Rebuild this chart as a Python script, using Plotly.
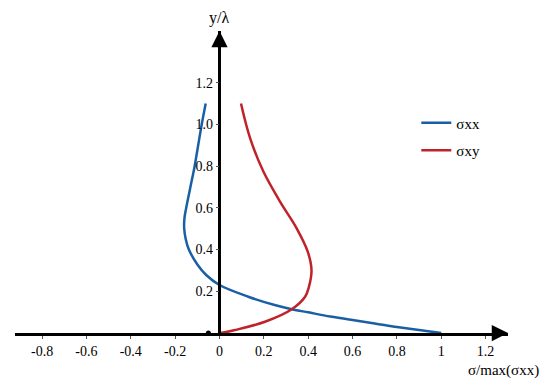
import plotly.graph_objects as go

# sigma_xx curve (normalized stress) vs y/lambda
sxx_y = [0.0, 0.014, 0.029, 0.046, 0.062, 0.079, 0.099, 0.114, 0.134, 0.174, 0.23, 0.278, 0.326, 0.40, 0.45, 0.50, 0.55, 0.60, 0.70, 0.80, 0.90, 1.0, 1.1]
sxx_x = [1.0, 0.90, 0.80, 0.70, 0.60, 0.50, 0.40, 0.326, 0.249, 0.13, 0.0, -0.060, -0.098, -0.138, -0.152, -0.159, -0.158, -0.150, -0.131, -0.112, -0.096, -0.080, -0.062]

# sigma_xy curve
sxy_y = [0.0, 0.002, 0.014, 0.054, 0.114, 0.174, 0.22, 0.30, 0.39, 0.502, 0.63, 0.774, 0.934, 1.1]
sxy_x = [0.0, 0.017, 0.07, 0.205, 0.326, 0.386, 0.403, 0.415, 0.398, 0.348, 0.273, 0.198, 0.138, 0.097]

x_ticks = [-0.8, -0.6, -0.4, -0.2, 0, 0.2, 0.4, 0.6, 0.8, 1, 1.2]
x_tick_text = ["-0.8", "-0.6", "-0.4", "-0.2", "0", "0.2", "0.4", "0.6", "0.8", "1", "1.2"]
y_ticks = [0.2, 0.4, 0.6, 0.8, 1.0, 1.2]
y_tick_text = ["0.2", "0.4", "0.6", "0.8", "1.0", "1.2"]

x_range = [-0.922, 1.301]
y_range = [0.0, 1.448]

serif = "Liberation Serif, Times New Roman, serif"
blue = "#1a5fa6"
red = "#c0222a"

fig = go.Figure()
fig.add_trace(go.Scatter(x=sxx_x, y=sxx_y, mode="lines", name="σxx", legendgroup="a",
                         line=dict(color=blue, width=2.5, shape="spline", smoothing=1.0)))
fig.add_trace(go.Scatter(x=sxy_x, y=sxy_y, mode="lines", name="σxy", legendgroup="b",
                         line=dict(color=red, width=2.5, shape="spline", smoothing=1.0)))
# small dot on axis
fig.add_trace(go.Scatter(x=[-0.05], y=[0], mode="markers", showlegend=False,
                         marker=dict(color="black", size=5)))

y_pos = (0 - x_range[0]) / (x_range[1] - x_range[0])

fig.update_layout(
    width=542, height=374,
    margin=dict(l=7, r=42, t=23, b=49),
    plot_bgcolor="white", paper_bgcolor="white",
    font=dict(family=serif, size=14, color="black"),
    xaxis=dict(range=x_range, tickvals=x_ticks, ticktext=x_tick_text,
               showgrid=False, zeroline=False, showline=True, linecolor="black",
               linewidth=2.5, ticks="outside", ticklen=3, tickwidth=1, tickcolor="#555",
               tickfont=dict(family=serif, size=14)),
    yaxis=dict(range=y_range, tickvals=y_ticks, ticktext=y_tick_text,
               anchor="free", position=y_pos, side="left",
               showgrid=False, zeroline=False, showline=True, linecolor="black",
               linewidth=2.5, ticks="outside", ticklen=3, tickwidth=1, tickcolor="#555",
               tickfont=dict(family=serif, size=14)),
    legend=dict(x=0.814, y=0.75, xanchor="left", yanchor="top",
                traceorder="grouped", tracegroupgap=5,
                font=dict(family=serif, size=15), bgcolor="rgba(0,0,0,0)"),
    showlegend=True,
)

# arrowheads at axis ends
fig.add_annotation(x=x_range[1], y=0, ax=x_range[1] - 0.05, ay=0, xref="x", yref="y",
                   axref="x", ayref="y", showarrow=True, arrowhead=2, arrowsize=1.3,
                   arrowwidth=2.5, arrowcolor="black", text="")
fig.add_annotation(x=0, y=y_range[1], ax=0, ay=y_range[1] - 0.05, xref="x", yref="y",
                   axref="x", ayref="y", showarrow=True, arrowhead=2, arrowsize=1.3,
                   arrowwidth=2.5, arrowcolor="black", text="")
# axis titles
fig.add_annotation(x=0, y=y_range[1], xref="x", yref="y", yshift=2, showarrow=False,
                   text="y/λ", font=dict(family=serif, size=16), yanchor="bottom")
fig.add_annotation(x=x_range[1], y=0, xref="x", yref="y", yshift=-27, xshift=33,
                   showarrow=False, xanchor="right",
                   text="σ/max(σxx)", font=dict(family=serif, size=15), yanchor="top")

fig.write_html("out.html")
